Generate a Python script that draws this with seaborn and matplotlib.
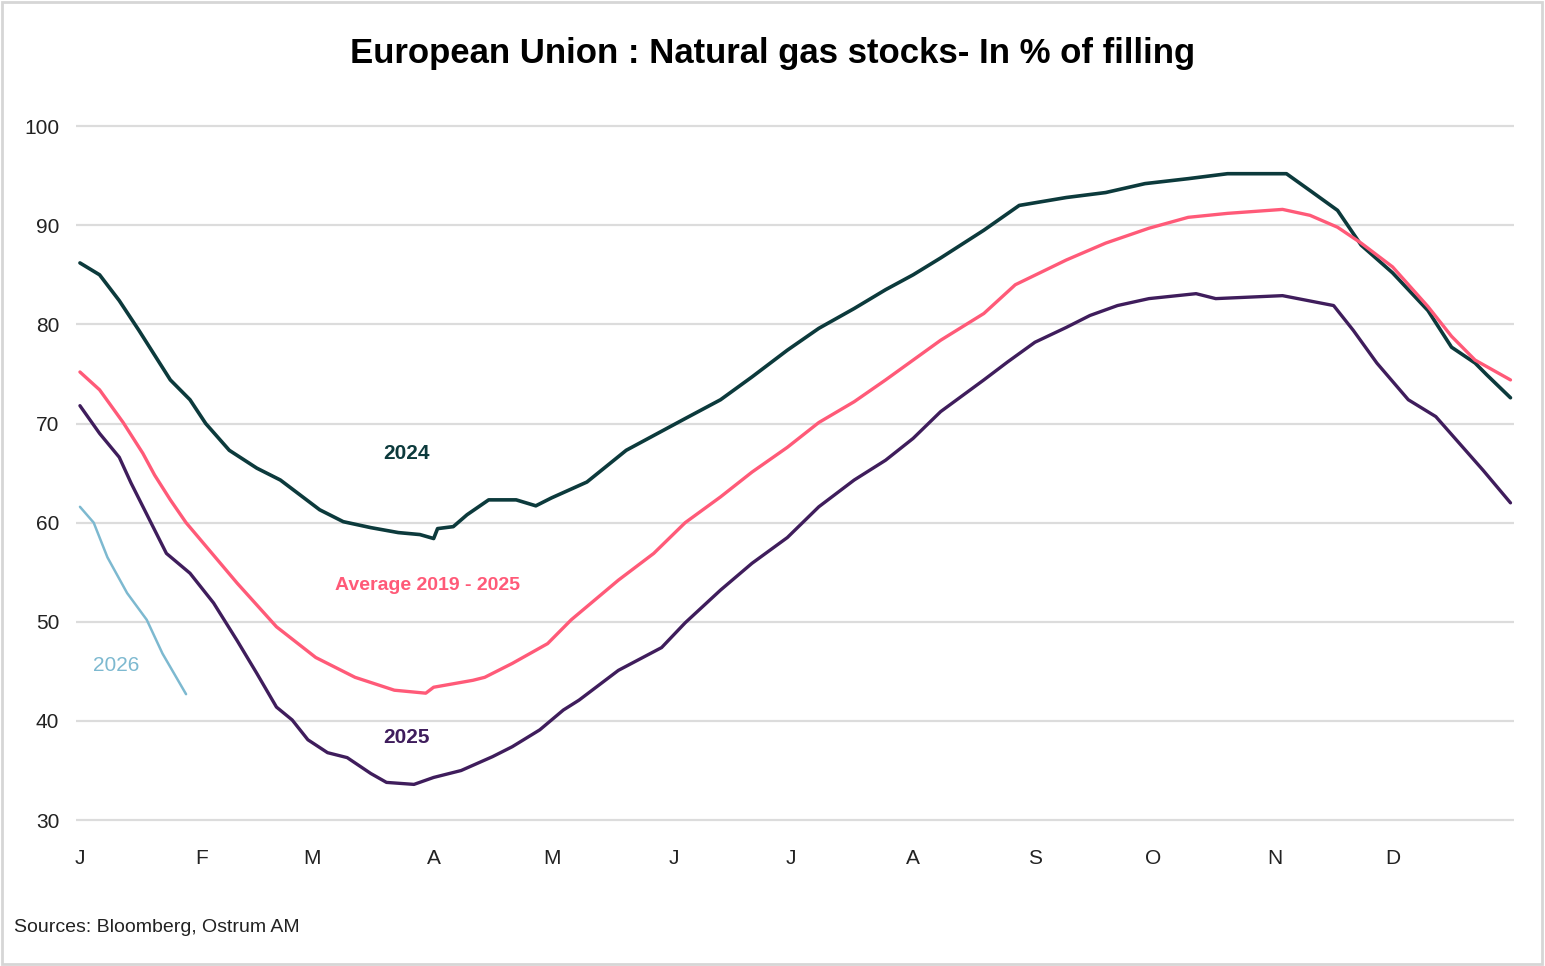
import numpy as np
import pandas as pd
import matplotlib
matplotlib.use("Agg")
import matplotlib.pyplot as plt
from matplotlib.patches import Rectangle
import seaborn as sns

# day of year (0 = 1 Jan) and % of filling
days_2024 = [0, 5, 10, 15, 19, 23, 28, 32, 38, 45, 51, 56, 61, 67, 74, 81, 86.5, 90, 91, 95,
             98.5, 104, 111, 116, 120, 129, 139, 154, 163, 171, 180, 188, 197, 205, 212, 219,
             230, 239, 251, 261, 271, 282, 292, 307, 313, 320, 326, 334, 343, 349, 355, 358, 364]
vals_2024 = [86.2, 85.0, 82.4, 79.4, 76.9, 74.4, 72.4, 70.0, 67.3, 65.5, 64.3, 62.8, 61.3, 60.1,
             59.5, 59.0, 58.8, 58.4, 59.4, 59.6, 60.8, 62.3, 62.3, 61.7, 62.5, 64.1, 67.3, 70.5,
             72.4, 74.7, 77.4, 79.6, 81.6, 83.5, 85.0, 86.7, 89.5, 92.0, 92.8, 93.3, 94.2, 94.7,
             95.2, 95.2, 93.5, 91.5, 88.0, 85.2, 81.4, 77.7, 76.1, 74.9, 72.6]

days_avg = [0, 5, 11, 16, 19, 23, 27, 40, 50, 60, 70, 80, 88, 90, 100, 103, 110, 119, 125, 137,
            146, 154, 163, 171, 180, 188, 197, 205, 219, 230, 238, 251, 261, 272, 282, 292, 306,
            313, 320, 326, 334, 343, 349, 355, 364]
vals_avg = [75.2, 73.4, 70.1, 67.0, 64.8, 62.3, 60.0, 53.9, 49.5, 46.4, 44.4, 43.1, 42.8, 43.4,
            44.1, 44.4, 45.8, 47.8, 50.2, 54.2, 56.9, 60.0, 62.6, 65.1, 67.6, 70.1, 72.2, 74.4,
            78.4, 81.1, 84.0, 86.5, 88.2, 89.7, 90.8, 91.2, 91.6, 91.0, 89.8, 88.2, 85.8, 81.8,
            78.8, 76.4, 74.4]

days_2025 = [0, 5, 10, 13, 22, 28, 34, 40, 45, 50, 54, 58, 63, 68, 74, 78, 85, 90, 97, 105, 110,
             117, 123, 127, 137, 148, 154, 163, 171, 180, 188, 197, 205, 212, 219, 230, 236, 243,
             251, 257, 264, 272, 284, 289, 306, 319, 324, 330, 338, 345, 351, 357, 364]
vals_2025 = [71.8, 69.0, 66.6, 64.0, 56.9, 54.9, 51.9, 48.1, 44.8, 41.4, 40.1, 38.1, 36.8, 36.3,
             34.7, 33.8, 33.6, 34.3, 35.0, 36.4, 37.4, 39.1, 41.1, 42.1, 45.1, 47.4, 49.9, 53.2,
             55.9, 58.5, 61.6, 64.3, 66.3, 68.5, 71.2, 74.4, 76.2, 78.2, 79.7, 80.9, 81.9, 82.6,
             83.1, 82.6, 82.9, 81.9, 79.4, 76.1, 72.4, 70.7, 68.0, 65.3, 62.0]

days_2026 = [0, 3.5, 7, 12, 17, 21, 27]
vals_2026 = [61.6, 60.0, 56.5, 52.9, 50.2, 46.8, 42.7]

month_days = [0, 31, 59, 90, 120, 151, 181, 212, 243, 273, 304, 334]
month_labels = ["J", "F", "M", "A", "M", "J", "J", "A", "S", "O", "N", "D"]
y_ticks = [30, 40, 50, 60, 70, 80, 90, 100]

C2024 = "#0c3a3c"
CAVG = "#ff5a78"
C2025 = "#3f1d5c"
C2026 = "#7db9d0"

sns.set_style("white")
plt.rcParams["font.family"] = ["Liberation Sans Narrow", "Liberation Sans", "DejaVu Sans"]

fig = plt.figure(figsize=(15.45, 9.66), dpi=100)
ax = fig.add_axes([0.0492, 0.1408, 0.931, 0.7389])

sns.lineplot(x=days_2024, y=vals_2024, color=C2024, lw=2.6, ax=ax)
sns.lineplot(x=days_avg, y=vals_avg, color=CAVG, lw=2.4, ax=ax)
sns.lineplot(x=days_2025, y=vals_2025, color=C2025, lw=2.4, ax=ax)
sns.lineplot(x=days_2026, y=vals_2026, color=C2026, lw=1.8, ax=ax)

ax.set_xlim(-1, 365)
ax.set_ylim(29, 101)
ax.set_yticks(y_ticks)
ax.set_xticks(month_days)
ax.set_xticklabels(month_labels)
ax.yaxis.grid(True, color="#dcdcdc", lw=1.6)
ax.xaxis.grid(False)
ax.set_axisbelow(True)
for s in ax.spines.values():
    s.set_visible(False)
ax.tick_params(axis="both", length=0, labelsize=15, colors="#222222")
ax.tick_params(axis="y", pad=12)
ax.tick_params(axis="x", pad=14)

# series labels
ax.text(83, 67.0, "2024", color=C2024, fontsize=15, fontweight="bold", ha="center", va="center")
ax.text(88.5, 53.7, "Average 2019 - 2025", color=CAVG, fontsize=14, fontweight="bold",
        ha="center", va="center")
ax.text(83, 38.3, "2025", color=C2025, fontsize=15, fontweight="bold", ha="center", va="center")
ax.text(9.2, 45.6, "2026", color=C2026, fontsize=15, ha="center", va="center")

fig.text(0.5, 0.945, "European Union : Natural gas stocks- In % of filling", fontsize=25,
         fontweight="bold", ha="center", va="center", color="black")
fig.text(0.009, 0.04, "Sources: Bloomberg, Ostrum AM", fontsize=14, ha="left", va="center",
         color="#222222")

fig.patches.append(Rectangle((0.001, 0.002), 0.997, 0.996, transform=fig.transFigure,
                             fill=False, edgecolor="#d6d6d6", lw=2))

plt.savefig("out.png", dpi=100)
plt.close()
